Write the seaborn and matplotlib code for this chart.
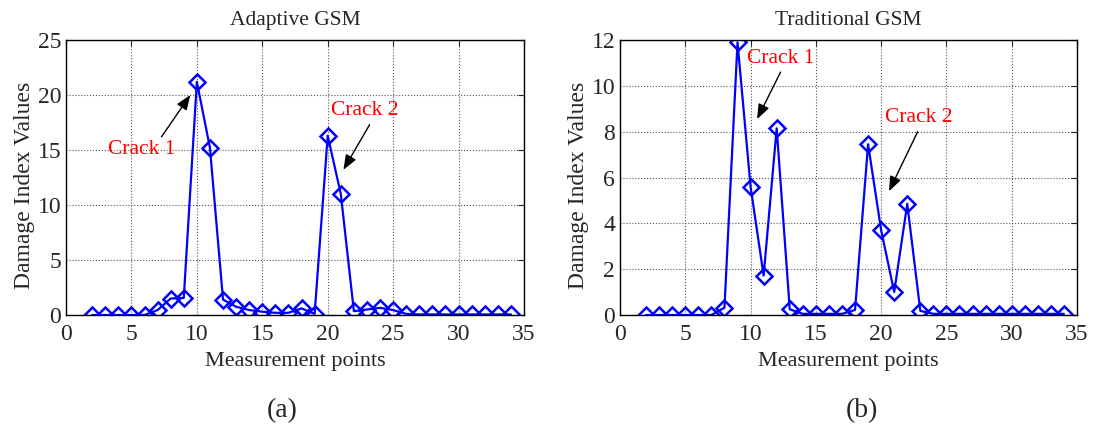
import numpy as np
import pandas as pd
import matplotlib
matplotlib.use("Agg")
import matplotlib.pyplot as plt
import seaborn as sns

points = list(range(2, 35))
adaptive = [0.0, 0.0, 0.0, 0.0, 0.0, 0.45, 1.5, 1.55, 21.2, 15.2,
            1.4, 0.75, 0.45, 0.3, 0.2, 0.2, 0.6, 0.1, 16.3, 11.0,
            0.35, 0.5, 0.65, 0.45, 0.1, 0.05, 0.05, 0.05, 0.05, 0.05,
            0.05, 0.05, 0.05]
traditional = [0.0, 0.0, 0.0, 0.0, 0.0, 0.0, 0.32, 11.9, 5.6, 1.72,
               8.15, 0.25, 0.05, 0.05, 0.05, 0.05, 0.22, 7.45, 3.7, 1.0,
               4.85, 0.18, 0.05, 0.05, 0.05, 0.05, 0.05, 0.05, 0.05, 0.05,
               0.05, 0.05, 0.05]
titles = ["Adaptive GSM", "Traditional GSM"]
panel_labels = ["(a)", "(b)"]
xticks = [0, 5, 10, 15, 20, 25, 30, 35]
yticks_a = [0, 5, 10, 15, 20, 25]
yticks_b = [0, 2, 4, 6, 8, 10, 12]
crack_labels = ["Crack 1", "Crack 2"]

sns.set_style("white")
plt.rcParams["font.family"] = ["Liberation Serif", "DejaVu Serif"]

fig = plt.figure(figsize=(10.97, 4.32), dpi=100)
ax1 = fig.add_axes([66 / 1097, 117 / 432, 458 / 1097, 275 / 432])
ax2 = fig.add_axes([620 / 1097, 117 / 432, 457 / 1097, 275 / 432])

def style(ax, data, title, yticks):
    df = pd.DataFrame({"x": points, "y": data})
    sns.lineplot(data=df, x="x", y="y", ax=ax, color="#0000ff", lw=1.6,
                 marker="D", markersize=8, markerfacecolor="none",
                 markeredgecolor="#0000ff", markeredgewidth=1.8)
    ax.set_xlim(0, 35)
    ax.set_ylim(yticks[0], yticks[-1])
    ax.set_xticks(xticks)
    ax.set_yticks(yticks)
    ax.tick_params(axis="both", direction="in", top=True, right=True, length=4,
                   labelsize=17, width=0.8)
    ax.tick_params(axis="x", pad=6.5)
    ax.tick_params(axis="y", pad=3.5)
    ax.grid(True, linestyle=":", color="#555555", lw=0.8)
    for s in ax.spines.values():
        s.set_color("black")
        s.set_linewidth(1.0)
    ax.set_title(title, fontsize=15.5, pad=11)
    ax.set_xlabel("Measurement points", fontsize=16, labelpad=5)
    ax.set_ylabel("Damage Index Values", fontsize=17)
    ax.yaxis.set_label_coords(-0.068, 0.47)

style(ax1, adaptive, titles[0], yticks_a)
style(ax2, traditional, titles[1], yticks_b)

arrow = dict(arrowstyle="-|>,head_length=0.9,head_width=0.35", color="black",
             lw=1.0, shrinkA=0, shrinkB=0)

ax1.text(5.8, 15.05, crack_labels[0], color="red", fontsize=15.5, ha="center", va="center")
ax1.annotate("", xy=(9.5, 20.0), xytext=(7.3, 16.2), arrowprops=arrow)
ax1.text(22.8, 18.6, crack_labels[1], color="red", fontsize=15.5, ha="center", va="center")
ax1.annotate("", xy=(21.2, 13.2), xytext=(23.2, 17.3), arrowprops=arrow)

ax2.text(12.3, 11.2, crack_labels[0], color="red", fontsize=15.5, ha="center", va="center")
ax2.annotate("", xy=(10.5, 8.55), xytext=(12.3, 10.6), arrowprops=arrow)
ax2.text(22.9, 8.6, crack_labels[1], color="red", fontsize=15.5, ha="center", va="center")
ax2.annotate("", xy=(20.6, 5.4), xytext=(22.8, 8.0), arrowprops=arrow)

fig.text(282 / 1097, 1 - 411 / 432, panel_labels[0], fontsize=20, ha="center", va="center")
fig.text(862 / 1097, 1 - 411 / 432, panel_labels[1], fontsize=20, ha="center", va="center")

fig.savefig("out.png", dpi=100)
